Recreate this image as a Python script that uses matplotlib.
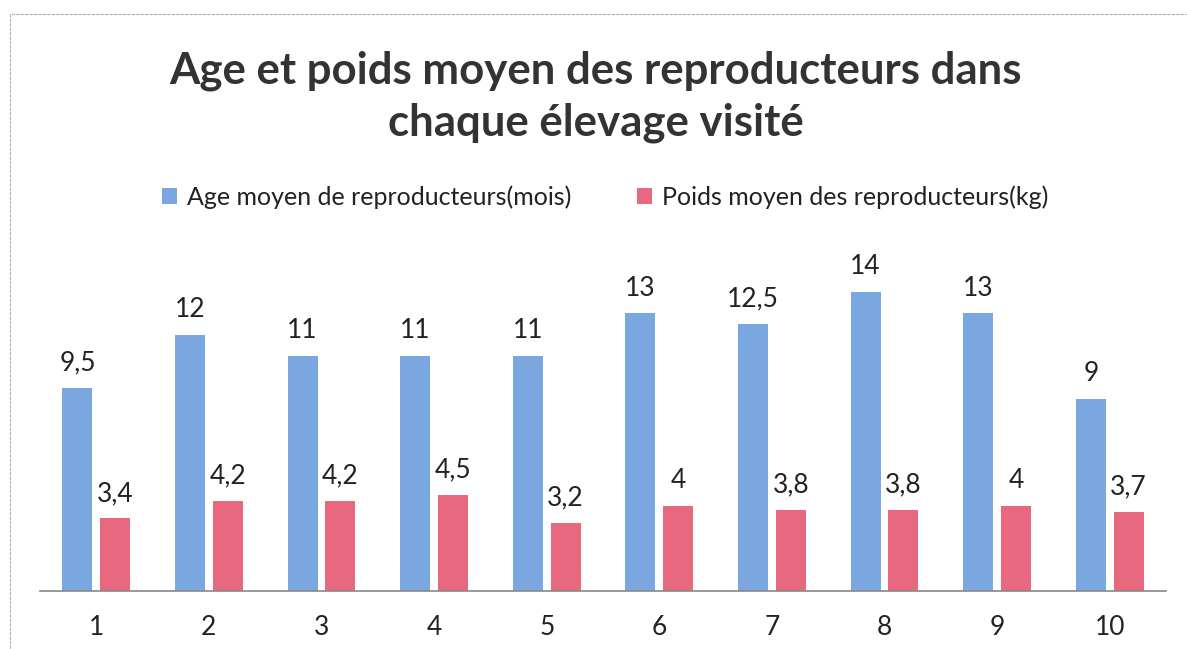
import matplotlib
matplotlib.use("Agg")
import matplotlib.pyplot as plt
import numpy as np
from matplotlib.patches import Rectangle

plt.rcParams['font.family'] = ['Lato', 'DejaVu Sans']

categories = ['1', '2', '3', '4', '5', '6', '7', '8', '9', '10']
age_moyen = [9.5, 12, 11, 11, 11, 13, 12.5, 14, 13, 9]
poids_moyen = [3.4, 4.2, 4.2, 4.5, 3.2, 4, 3.8, 3.8, 4, 3.7]
series_names = ['Age moyen de reproducteurs(mois)', 'Poids moyen des reproducteurs(kg)']
title = "Age et poids moyen des reproducteurs dans\nchaque élevage visité"

blue = '#7BA7E1'
pink = '#E8687F'
text_col = '#333333'

W, H = 1187, 649
fig = plt.figure(figsize=(W / 100, H / 100), dpi=100)
fig.patch.set_facecolor('white')

# chart border
fig.patches.append(Rectangle((10 / W, -0.01), 1200 / W, (H - 14) / H + 0.01,
                             transform=fig.transFigure, fill=False,
                             edgecolor='#b0b0b0', lw=0.8, linestyle=(0, (3, 1))))

ax = fig.add_axes([40 / W, 58 / H, 1126 / W, 342 / H])
x = np.arange(1, len(categories) + 1)
w = 0.266
off = 0.168
b1 = ax.bar(x - off, age_moyen, w, color=blue, label=series_names[0])
b2 = ax.bar(x + off, poids_moyen, w, color=pink, label=series_names[1])

def fmt(v):
    s = ('%g' % v)
    return s.replace('.', ',')

ax.bar_label(b1, labels=[fmt(v) for v in age_moyen], padding=9, fontsize=19, color='#222222')
ax.bar_label(b2, labels=[fmt(v) for v in poids_moyen], padding=9, fontsize=19, color='#222222')

ax.set_xlim(0.5, 10.5)
ax.set_ylim(0, 16)
ax.set_xticks(x)
ax.set_xticklabels(categories, fontsize=19, color='#222222')
ax.tick_params(axis='x', length=0, pad=17)
ax.set_yticks([])
for s in ['top', 'right', 'left']:
    ax.spines[s].set_visible(False)
ax.spines['bottom'].set_color('#888888')
ax.spines['bottom'].set_linewidth(1.2)

fig.text(0.502, 1 - 97 / H, title, ha='center', va='center', fontsize=31.5,
         fontweight='bold', color=text_col, linespacing=1.35)

leg = fig.legend(handles=[b1, b2], loc='center', bbox_to_anchor=(0.51, 1 - 197 / H),
                 ncol=2, frameon=False, fontsize=18, handlelength=0.6, handleheight=0.6,
                 handletextpad=0.4, columnspacing=2.6)
for t in leg.get_texts():
    t.set_color('#222222')

fig.savefig('out.png', dpi=100, facecolor='white')
